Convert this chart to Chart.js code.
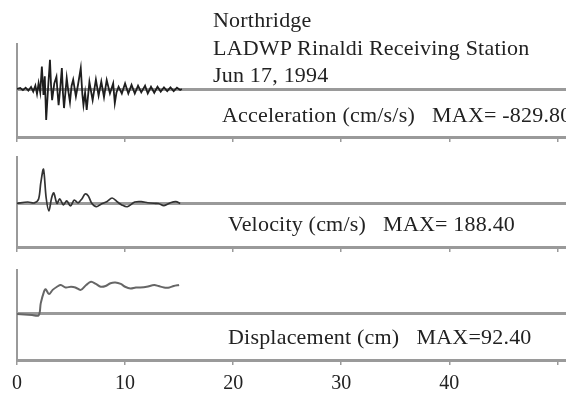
<!DOCTYPE html>
<html>
<head>
<meta charset="utf-8">
<script src="https://cdn.jsdelivr.net/npm/chart.js@4.4.0/dist/chart.umd.min.js"></script>
<style>
  body { margin: 0; background: #fff; }
  #wrap { position: relative; width: 566px; height: 394px; overflow: hidden; }
  canvas { position: absolute; left: 0; top: 0; }
  .txt { position: absolute; font-family: "Liberation Serif", serif; color: #222; white-space: nowrap; font-size: 22px; line-height: 25px; letter-spacing: 0.2px; }
</style>
</head>
<body>
<div id="wrap">
  <canvas id="acc" width="566" height="394"></canvas>
  <canvas id="vel" width="566" height="394"></canvas>
  <canvas id="dis" width="566" height="394"></canvas>
  <div class="txt" style="left:213px; top:6px; line-height:27.5px">Northridge<br>LADWP Rinaldi Receiving Station<br>Jun 17, 1994</div>
  <div class="txt" style="left:222px; top:102px">Acceleration (cm/s/s)&nbsp;&nbsp; MAX= -829.80</div>
  <div class="txt" style="left:228px; top:211px">Velocity (cm/s)&nbsp;&nbsp; MAX= 188.40</div>
  <div class="txt" style="left:228px; top:324px">Displacement (cm)&nbsp;&nbsp; MAX=92.40</div>
</div>
<script>
// time axis (s)
const xTickValues = [0, 10, 20, 30, 40, 50];
const xTickLabels = [0, 10, 20, 30, 40];

// acceleration, cm/s/s
const accTime  = [0, 0.3, 0.55, 0.8, 1.05, 1.3, 1.5, 1.7, 1.85, 2.0, 2.15, 2.3, 2.45, 2.57, 2.7, 2.88, 3.05, 3.15, 3.25, 3.45, 3.65,
                  3.75, 3.85, 4.0, 4.15, 4.25, 4.35, 4.6, 4.75, 4.9, 5.05, 5.2, 5.45, 5.65, 5.9, 6.05, 6.15, 6.3, 6.45, 6.7, 6.85, 7.0, 7.3, 7.55, 7.8, 8.05, 8.3,
                  8.6, 8.9, 9.05, 9.2, 9.4, 9.7, 10.0, 10.3, 10.6, 10.9, 11.2, 11.5, 11.85, 12.1, 12.4, 12.7, 13.0, 13.3, 13.6, 13.9, 14.2,
                  14.5, 14.8, 15.1, 15.25];
const accValue = [0, 25, -30, 35, -45, 55, -70, 90, -130, 160, -90, 600, -160, 340, -829.8, 40, 780, 100, -300, 150, 330,
                  -80, -430, 20, 560, -100, -510, 300, -60, -350, 80, 250, -200, 120, 560, -150, -430, -100, -560, 190, -60, -300, 250, -180, 200, -220, 240,
                  -120, 150, -380, -100, 60, -120, 150, -120, 110, -120, 90, -90, 90, -120, 60, -100, 60, -70, 45, -55, 45,
                  -55, 35, -25, 0];

// velocity, cm/s
const velTime  = [0, 1.0, 1.6, 2.0, 2.2, 2.45, 2.7, 2.95, 3.2, 3.4, 3.7, 3.95, 4.3, 4.6, 4.95, 5.3, 5.65, 6.0, 6.3, 6.6,
                  6.9, 7.35, 7.8, 8.3, 8.8, 9.3, 9.7, 10.2, 10.9, 11.5, 12.1, 12.7, 13.1, 13.6, 14.2, 14.7, 15.1];
const velValue = [0, 8, 3, 25, 113, 188.4, 30, -41, 30, 58, 0, 25, -8, 14, -14, 19, 3, 25, 52, 41,
                  3, -18, -3, 10, 30, 8, -8, -18, 8, 10, 4, 1, 0, -12, 4, 10, 0];

// displacement, cm
const disTime  = [0, 1.4, 2.0, 2.2, 2.5, 2.65, 2.96, 3.3, 3.7, 4.05, 4.5, 5.0, 5.4, 5.9, 6.4, 6.85, 7.3, 7.75, 8.2, 8.65,
                  9.1, 9.6, 10.0, 10.5, 11.0, 11.4, 12.0, 12.7, 13.1, 13.6, 14.1, 14.5, 15.0];
const disValue = [0, -3, -4, 31, 64, 71, 57, 69, 78, 83, 76, 78, 76, 69, 83, 92.4, 86, 78, 80, 88,
                  90, 86, 78, 73, 76, 76, 78, 83, 80, 76, 76, 80, 83];

const axisGray = '#9a9a9a';

function panel(id, time, value, o) {
  const points = time.map((t, i) => ({ x: t, y: value[i] }));
  return new Chart(document.getElementById(id), {
    type: 'line',
    data: {
      datasets: [{
        data: points,
        borderColor: o.color,
        borderWidth: o.width,
        pointRadius: 0,
        tension: o.tension
      }]
    },
    options: {
      responsive: false,
      animation: false,
      events: [],
      layout: {
        autoPadding: false,
        padding: { left: 17, right: 0, top: o.top, bottom: 394 - o.bottom - o.axisHeight }
      },
      plugins: { legend: { display: false }, tooltip: { enabled: false } },
      scales: {
        x: {
          type: 'linear',
          min: 0,
          max: 50.8,
          afterFit: s => { s.height = o.axisHeight; },
          afterBuildTicks: s => { s.ticks = xTickValues.map(v => ({ value: v })); },
          grid: { drawOnChartArea: false, drawTicks: true, tickLength: 5, color: axisGray, lineWidth: 1.5 },
          border: { display: true, color: axisGray, width: 3 },
          ticks: {
            display: o.labels,
            padding: 7,
            color: '#222',
            maxRotation: 0,
            autoSkip: false,
            font: { family: 'Liberation Serif', size: 20 },
            callback: v => xTickLabels.includes(v) ? String(v) : ''
          }
        },
        y: {
          type: 'linear',
          min: o.min,
          max: o.max,
          afterFit: s => { s.width = 0; },
          afterBuildTicks: s => { s.ticks = [{ value: 0 }]; },
          grid: { drawTicks: false, color: axisGray, lineWidth: 3 },
          border: { display: true, color: axisGray, width: 2 },
          ticks: { display: false }
        }
      }
    }
  });
}

panel('acc', accTime, accValue, { top: 44, bottom: 137, min: -1285, max: 1205, color: '#1e1e1e', width: 1.8, tension: 0, labels: false, axisHeight: 5 });
panel('vel', velTime, velValue, { top: 157, bottom: 247, min: -240, max: 256, color: '#333', width: 1.7, tension: 0.3, labels: false, axisHeight: 5 });
panel('dis', disTime, disValue, { top: 270, bottom: 360, min: -132, max: 126, color: '#666', width: 2, tension: 0.35, labels: true, axisHeight: 34 });
</script>
</body>
</html>
